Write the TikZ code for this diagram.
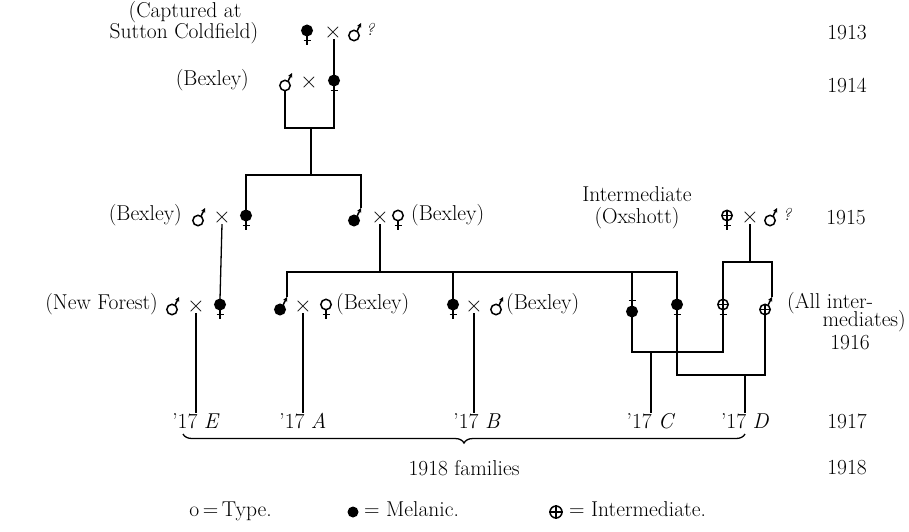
\documentclass[tikz,border=0pt]{standalone}
\usepackage{fontspec}
\usetikzlibrary{arrows.meta,decorations.pathreplacing}
\tikzset{
  lbl/.style={font=\fontsize{21.5}{23}\selectfont, inner sep=0pt},
  crs/.style={font=\fontsize{24}{25}\selectfont, inner sep=0pt},
  qm/.style={font=\fontsize{17}{18}\selectfont\itshape, inner sep=0pt},
  conn/.style={line width=1.3pt},
  symline/.style={line width=1.5pt},
  pics/femM/.style={code={
    \draw[symline, fill=black] (0,-2.5) circle (5.2);
    \draw[symline] (0,2.7) -- (0,11.5) (-3.5,7.5) -- (3.5,7.5);
    \coordinate (-t) at (0,-7.7); \coordinate (-b) at (0,11.5);}},
  pics/femT/.style={code={
    \draw[symline, fill=white] (0,-2.5) circle (5.2);
    \draw[symline] (0,2.7) -- (0,11.5) (-3.5,7.5) -- (3.5,7.5);
    \coordinate (-t) at (0,-7.7); \coordinate (-b) at (0,11.5);}},
  pics/femI/.style={code={
    \draw[symline, fill=white] (0,-2.5) circle (5.2);
    \draw[line width=1.1pt] (-5.2,-2.5) -- (5.2,-2.5) (0,-7.7) -- (0,2.7);
    \draw[symline] (0,2.7) -- (0,11.5) (-3.5,7.5) -- (3.5,7.5);
    \coordinate (-t) at (0,-7.7); \coordinate (-b) at (0,11.5);}},
  pics/malT/.style={code={
    \draw[symline, fill=white] (0,2.5) circle (5.2);
    \draw[symline, -{Stealth[length=4.5pt,width=4.5pt]}] (3.0,-1.8) -- (7,-10);
    \coordinate (-t) at (7,-10); \coordinate (-b) at (0,7.7);}},
  pics/malM/.style={code={
    \draw[symline, fill=black] (0,2.5) circle (5.2);
    \draw[symline, -{Stealth[length=4.5pt,width=4.5pt]}] (3.0,-1.8) -- (7,-10);
    \coordinate (-t) at (7,-10); \coordinate (-b) at (0,7.7);}},
  pics/malI/.style={code={
    \draw[symline, fill=white] (0,2.5) circle (5.2);
    \draw[line width=1.1pt] (-5.2,2.5) -- (5.2,2.5) (0,-2.7) -- (0,7.7);
    \draw[symline, -{Stealth[length=4.5pt,width=4.5pt]}] (3.0,-1.8) -- (7,-10);
    \coordinate (-t) at (7,-10); \coordinate (-b) at (0,7.7);}},
  pics/malMup/.style={code={
    \draw[symline, fill=black] (0,4.5) circle (5.2);
    \draw[symline] (0,-0.7) -- (0,-11) (-3.5,-6.5) -- (3.5,-6.5);
    \coordinate (-t) at (0,-11); \coordinate (-b) at (0,9.7);}},
}
\begin{document}
\begin{tikzpicture}[x=1pt,y=-1pt]
\useasboundingbox (0,0) rectangle (909,531);

% ---- 1913 ----
\node[lbl] (cap1) at (185,12) {(Captured at};
\node[lbl] (cap2) at (184,33) {Sutton Coldfield)};
\pic (f13) at (307,33) {femM};
\node[crs] (x13) at (333,33) {×};
\pic (m13) at (354,33) {malT};
\node[qm] (q13) at (370,29) {?};
\node[lbl] (y13) at (847,33) {1913};

% ---- 1914 ----
\node[lbl, anchor=mid east] (bex14) at (249,83) {(Bexley)};
\pic (m14) at (285,83) {malT};
\node[crs] (x14) at (309,83) {×};
\pic (f14) at (334,83) {femM};
\node[lbl] (y14) at (847,85) {1914};

\draw[conn] (f14-t) -- (f14-t |- x13.south);
\coordinate (box) at (311,128);
\draw[conn] (m14-b) |- (box) -| (f14-b);
\coordinate (j15) at (311,175);
\draw[conn] (box) -- (j15);

% ---- 1915 ----
\node[lbl, anchor=mid east] (bex15a) at (182,218) {(Bexley)};
\pic (m15a) at (198,218) {malT};
\node[crs] (x15a) at (222,218) {×};
\pic (f15a) at (246,218) {femM};

\pic (m15b) at (354,218) {malM};
\node[crs] (x15b) at (380,218) {×};
\pic (f15b) at (398,218) {femT};
\node[lbl, anchor=mid west] (bex15b) at (411,218) {(Bexley)};

\node[lbl] (int15) at (637,194) {Intermediate};
\node[lbl] (oxs15) at (637,218) {(Oxshott)};
\pic (fI15) at (727,218) {femI};
\node[crs] (x15c) at (750,218) {×};
\pic (m15c) at (770,218) {malT};
\node[qm] (q15) at (787,214) {?};
\node[lbl] (y15) at (846,218) {1915};

\draw[conn] (f15a-t) |- (j15) -| (m15b-t);

% ---- 1916 ----
\node[lbl, anchor=mid east] (nf16) at (158,307) {(New Forest)};
\pic (m16a) at (172,307) {malT};
\node[crs] (x16a) at (196,307) {×};
\pic (f16a) at (220,307) {femM};

\pic (m16b) at (280,307) {malM};
\node[crs] (x16b) at (303,307) {×};
\pic (f16b) at (326,307) {femT};
\node[lbl, anchor=mid west] (bex16b) at (336,307) {(Bexley)};

\pic (f16c) at (453,307) {femM};
\node[crs] (x16c) at (474,307) {×};
\pic (m16c) at (496,307) {malT};
\node[lbl, anchor=mid west] (bex16c) at (506,307) {(Bexley)};

\pic (mu16) at (632,307) {malMup};
\pic (f16d) at (677,307) {femM};
\pic (fI16) at (723,307) {femI};
\pic (mI16) at (765,307) {malI};

\node[lbl, anchor=mid west] (all16) at (787,306) {(All inter-};
\node[lbl, anchor=mid east] (med16) at (906,324) {mediates)};
\node[lbl] (y16) at (850,343) {1916};

\draw[conn] (x15a.south) -- (f16a-t);
\coordinate (h16) at (380,272);
\draw[conn] (x15b.south) -- (h16);
\draw[conn] (m16b-t) -- (m16b-t |- h16) -- (f16d-t |- h16) -- (f16d-t);
\draw[conn] (f16c-t) -- (f16c-t |- h16);
\draw[conn] (mu16-t) -- (mu16-t |- h16);

\coordinate (h15r) at (750,262);
\draw[conn] (x15c.south) -- (h15r);
\draw[conn] (fI16-t) -- (fI16-t |- h15r) -- (mI16-t |- h15r) -- (mI16-t);

% ---- 1917 ----
\node[lbl] (e17) at (196,421) {'17 \textit{E}};
\node[lbl] (a17) at (303,421) {'17 \textit{A}};
\node[lbl] (b17) at (477,421) {'17 \textit{B}};
\node[lbl] (c17) at (651,421) {'17 \textit{C}};
\node[lbl] (d17) at (745,421) {'17 \textit{D}};
\node[lbl] (y17) at (847,421) {1917};

\draw[conn] (x16a.south) -- (x16a.south |- e17.north);
\draw[conn] (x16b.south) -- (x16b.south |- a17.north);
\draw[conn] (x16c.south) -- (x16c.south |- b17.north);

\coordinate (hC) at (651,352);
\draw[conn] (mu16-b) |- (hC) -| (fI16-b);
\draw[conn] (hC) -- (c17.north);
\coordinate (hD) at (745,375);
\draw[conn] (f16d-b) |- (hD) -| (mI16-b);
\draw[conn] (hD) -- (d17.north);

% ---- 1918 ----
\coordinate (brL) at (183,434);
\coordinate (brR) at (745,434);
\draw[conn, decorate, decoration={brace, mirror, amplitude=9pt}] (brL) -- (brR);
\node[lbl] (fam18) at (464,468) {1918 families};
\node[lbl] (y18) at (847,468) {1918};

% ---- legend ----
\node[lbl, anchor=mid east] (legT) at (272,514) {o\,=\,Type.};
\node[circle, fill=black, minimum size=11pt, inner sep=0pt] (legMs) at (353,512) {};
\node[lbl, anchor=mid west] (legM) at (364,514) {= Melanic.};
\node[circle, draw=black, line width=1.5pt, minimum size=12pt, inner sep=0pt] (legIs) at (556,512) {};
\draw[line width=1.3pt] (legIs.north) -- (legIs.south) (legIs.west) -- (legIs.east);
\node[lbl, anchor=mid west] (legI) at (569,514) {= Intermediate.};
\end{tikzpicture}
\end{document}
